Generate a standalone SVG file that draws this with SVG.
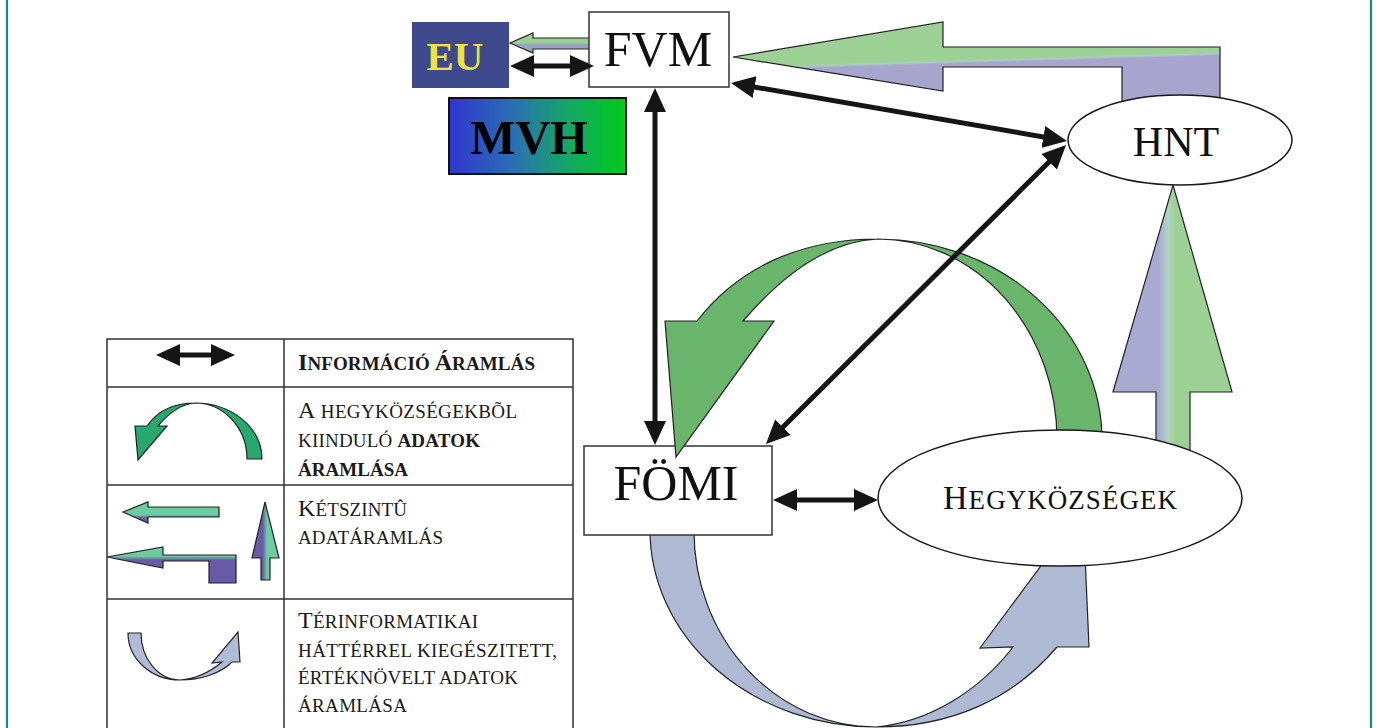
<svg xmlns="http://www.w3.org/2000/svg" width="1379" height="728" viewBox="0 0 1379 728">
<style>
.box{fill:#fff;stroke:#333;stroke-width:1.5}
.ell{fill:#fff;stroke:#1a1a1a;stroke-width:1.5}
.lbl{font-family:"Liberation Serif","Times New Roman",serif;fill:#111}
.conn{stroke:#151515;stroke-width:5;fill:none;marker-start:url(#ah);marker-end:url(#ah)}
.flow{stroke:#222;stroke-width:1.2;stroke-linejoin:miter}
.tbl{stroke:#333;stroke-width:1.5;fill:none}
.lt{font-family:"Liberation Serif","Times New Roman",serif;fill:#1a1a1a;font-size:19px}
</style>
<defs>
<marker id="ah" markerUnits="userSpaceOnUse" markerWidth="24" markerHeight="22" refX="18" refY="11" orient="auto-start-reverse" viewBox="0 0 24 22">
<path d="M0,0 L24,11 L0,22 Z" fill="#151515"/>
</marker>
<linearGradient id="gTop" gradientUnits="userSpaceOnUse" x1="975.6" y1="48" x2="976.4" y2="74">
<stop offset="0" stop-color="#9dd095"/><stop offset="0.42" stop-color="#9dd095"/><stop offset="0.5" stop-color="#aacbc4"/><stop offset="0.58" stop-color="#a7a4cd"/><stop offset="1" stop-color="#a7a4cd"/>
</linearGradient>
<linearGradient id="gUp" gradientUnits="userSpaceOnUse" x1="1113" y1="0" x2="1232" y2="0">
<stop offset="0" stop-color="#a8aad2"/><stop offset="0.39" stop-color="#a8aad2"/><stop offset="0.46" stop-color="#b0d4c4"/><stop offset="0.52" stop-color="#9dd095"/><stop offset="1" stop-color="#9dd095"/>
</linearGradient>
<linearGradient id="gEU" gradientUnits="userSpaceOnUse" x1="0" y1="33" x2="0" y2="53">
<stop offset="0" stop-color="#9ccf93"/><stop offset="0.5" stop-color="#9ccf93"/><stop offset="0.56" stop-color="#97a3c6"/><stop offset="1" stop-color="#97a3c6"/>
</linearGradient>
<linearGradient id="gMVH" gradientUnits="userSpaceOnUse" x1="449" y1="0" x2="626" y2="0">
<stop offset="0" stop-color="#3036cf"/><stop offset="0.35" stop-color="#2b6db6"/><stop offset="0.65" stop-color="#16a46a"/><stop offset="1" stop-color="#00cc18"/>
</linearGradient>
<linearGradient id="gL1" gradientUnits="userSpaceOnUse" x1="0" y1="502" x2="0" y2="523">
<stop offset="0" stop-color="#6ccb9f"/><stop offset="0.62" stop-color="#6ccb9f"/><stop offset="0.75" stop-color="#6a5ba6"/><stop offset="1" stop-color="#6a5ba6"/>
</linearGradient>
<linearGradient id="gL2" gradientUnits="userSpaceOnUse" x1="0" y1="547" x2="0" y2="583">
<stop offset="0" stop-color="#6ccb9f"/><stop offset="0.26" stop-color="#6ccb9f"/><stop offset="0.36" stop-color="#6a5ba6"/><stop offset="1" stop-color="#6a5ba6"/>
</linearGradient>
<linearGradient id="gL3" gradientUnits="userSpaceOnUse" x1="252" y1="0" x2="279" y2="0">
<stop offset="0" stop-color="#6a5ba6"/><stop offset="0.4" stop-color="#6a5ba6"/><stop offset="0.55" stop-color="#6ccb9f"/><stop offset="1" stop-color="#6ccb9f"/>
</linearGradient>
</defs>
<rect x="0" y="0" width="1379" height="728" fill="#fff"/>
<line x1="7" y1="0" x2="7" y2="728" stroke="#17898a" stroke-width="2.2"/>
<line x1="1371" y1="0" x2="1371" y2="728" stroke="#17898a" stroke-width="2.2"/>

<g id="flows-back">
<path class="flow" fill="#aeb9d3" d="M650,530 A226 197 0 0 0 876 727 C950 727 1012 700 1057 647 L1089 647 L1083 509 L980 648 L1013 647 C980 690 930 722 876 727 A182 196 0 0 1 694 531 Z"/>
<polygon class="flow" fill="url(#gUp)" points="1173,185 1232,392 1190,392 1190,458 1156,458 1156,392 1113,392"/>
<polygon class="flow" fill="url(#gTop)" points="733,57 943,22 943,47 1220,47 1220,112 1122,112 1122,67 943,67 943,91"/>
<polygon class="flow" fill="url(#gEU)" points="510,43 533,33 533,38 592,38 592,49 533,49 533,53"/>
</g>

<g id="fomi">
<rect class="box" x="584" y="446" width="188" height="89"/>
<text class="lbl" x="676" y="500" font-size="50" text-anchor="middle">FÖMI</text>
</g>

<g id="flow-green">
<path class="flow" fill="#6ab56c" d="M1102,440 A224 201 0 0 0 878 239 C800 239 738 268 697 321 L665 321 L676 457 L774 321 L743 321 C785 272 830 241 878 239 A179 201 0 0 1 1057 440 Z"/>
</g>

<g id="hegykozsegek">
<ellipse class="ell" cx="1060" cy="498" rx="182" ry="68"/>
<text class="lbl" x="943" y="509" textLength="234" lengthAdjust="spacing"><tspan font-size="34">H</tspan><tspan font-size="27">EGYKÖZSÉGEK</tspan></text>
</g>

<g id="hnt">
<ellipse class="ell" cx="1180" cy="140" rx="112" ry="45"/>
<text class="lbl" x="1176" y="156" font-size="42" text-anchor="middle">HNT</text>
</g>

<g id="fvm">
<rect class="box" x="589" y="12" width="140" height="75"/>
<text class="lbl" x="658" y="66" font-size="50" text-anchor="middle">FVM</text>
</g>

<g id="eu">
<rect x="412" y="22" width="97" height="66" fill="#3f498d"/>
<text x="455" y="70" font-family="Liberation Serif, serif" font-weight="bold" font-size="41" fill="#ece43c" text-anchor="middle">EU</text>
</g>

<g id="mvh">
<rect x="449" y="98" width="177" height="76" fill="url(#gMVH)" stroke="#111" stroke-width="2"/>
<text x="529" y="154" font-family="Liberation Serif, serif" font-weight="bold" font-size="48" fill="#000" text-anchor="middle">MVH</text>
</g>

<g id="connectors">
<line class="conn" x1="516" y1="66" x2="588" y2="66"/>
<line class="conn" x1="655" y1="94" x2="655" y2="439"/>
<line class="conn" x1="736.9" y1="84" x2="1061.1" y2="140"/>
<line class="conn" x1="770.2" y1="439.8" x2="1061.8" y2="149.2"/>
<line class="conn" x1="779" y1="500" x2="872" y2="500"/>
</g>

<g id="legend">
<path class="tbl" d="M107,728 V339 H573 V728 M284,339 V728 M107,387 H573 M107,485 H573 M107,599 H573"/>
<line class="conn" x1="162" y1="355" x2="229" y2="355"/>
<text class="lt" x="298" y="370" font-weight="bold" textLength="237" lengthAdjust="spacing"><tspan font-size="24">I</tspan>NFORMÁCIÓ <tspan font-size="24">Á</tspan>RAMLÁS</text>

<path class="flow" fill="#27a86d" d="M262,459 A67 56 0 0 0 195 403 C175 403 158 410 147 426 L135 426 L138 460 L167 426 L158 426 C168 414 180 404 195 403 A52 56 0 0 1 247 459 Z"/>
<text class="lt" x="298" y="418" textLength="219" lengthAdjust="spacing"><tspan font-size="24">A</tspan> HEGYKÖZSÉGEKBÕL</text>
<text class="lt" x="298" y="447" textLength="182" lengthAdjust="spacing">KIINDULÓ <tspan font-weight="bold">ADATOK</tspan></text>
<text class="lt" x="298" y="476" font-weight="bold" textLength="110" lengthAdjust="spacing">ÁRAMLÁSA</text>

<polygon class="flow" fill="url(#gL1)" points="123,512 148,502 148,507 219,507 219,517 148,517 148,523"/>
<polygon class="flow" fill="url(#gL2)" points="107,557 163,547 163,555 236,555 236,583 209,583 209,561 163,561 163,568"/>
<polygon class="flow" fill="url(#gL3)" points="265,502 279,558 270,558 270,580 261,580 261,558 252,558"/>
<text class="lt" x="298" y="516" textLength="109" lengthAdjust="spacing"><tspan font-size="24">K</tspan>ÉTSZINTÛ</text>
<text class="lt" x="298" y="544" textLength="145" lengthAdjust="spacing">ADATÁRAMLÁS</text>

<path class="flow" fill="#aebcd8" d="M128,633 A52 47 0 0 0 180 680 C200 680 220 674 232 662 L240 662 L238 632 L212 663 L222 662 C210 672 195 679 180 680 A39 47 0 0 1 141 633 Z"/>
<text class="lt" x="298" y="628" textLength="180" lengthAdjust="spacing"><tspan font-size="24">T</tspan>ÉRINFORMATIKAI</text>
<text class="lt" x="298" y="657" textLength="259" lengthAdjust="spacing">HÁTTÉRREL KIEGÉSZITETT,</text>
<text class="lt" x="298" y="684" textLength="220" lengthAdjust="spacing">ÉRTÉKNÖVELT ADATOK</text>
<text class="lt" x="298" y="712" textLength="109" lengthAdjust="spacing">ÁRAMLÁSA</text>
</g>
</svg>
